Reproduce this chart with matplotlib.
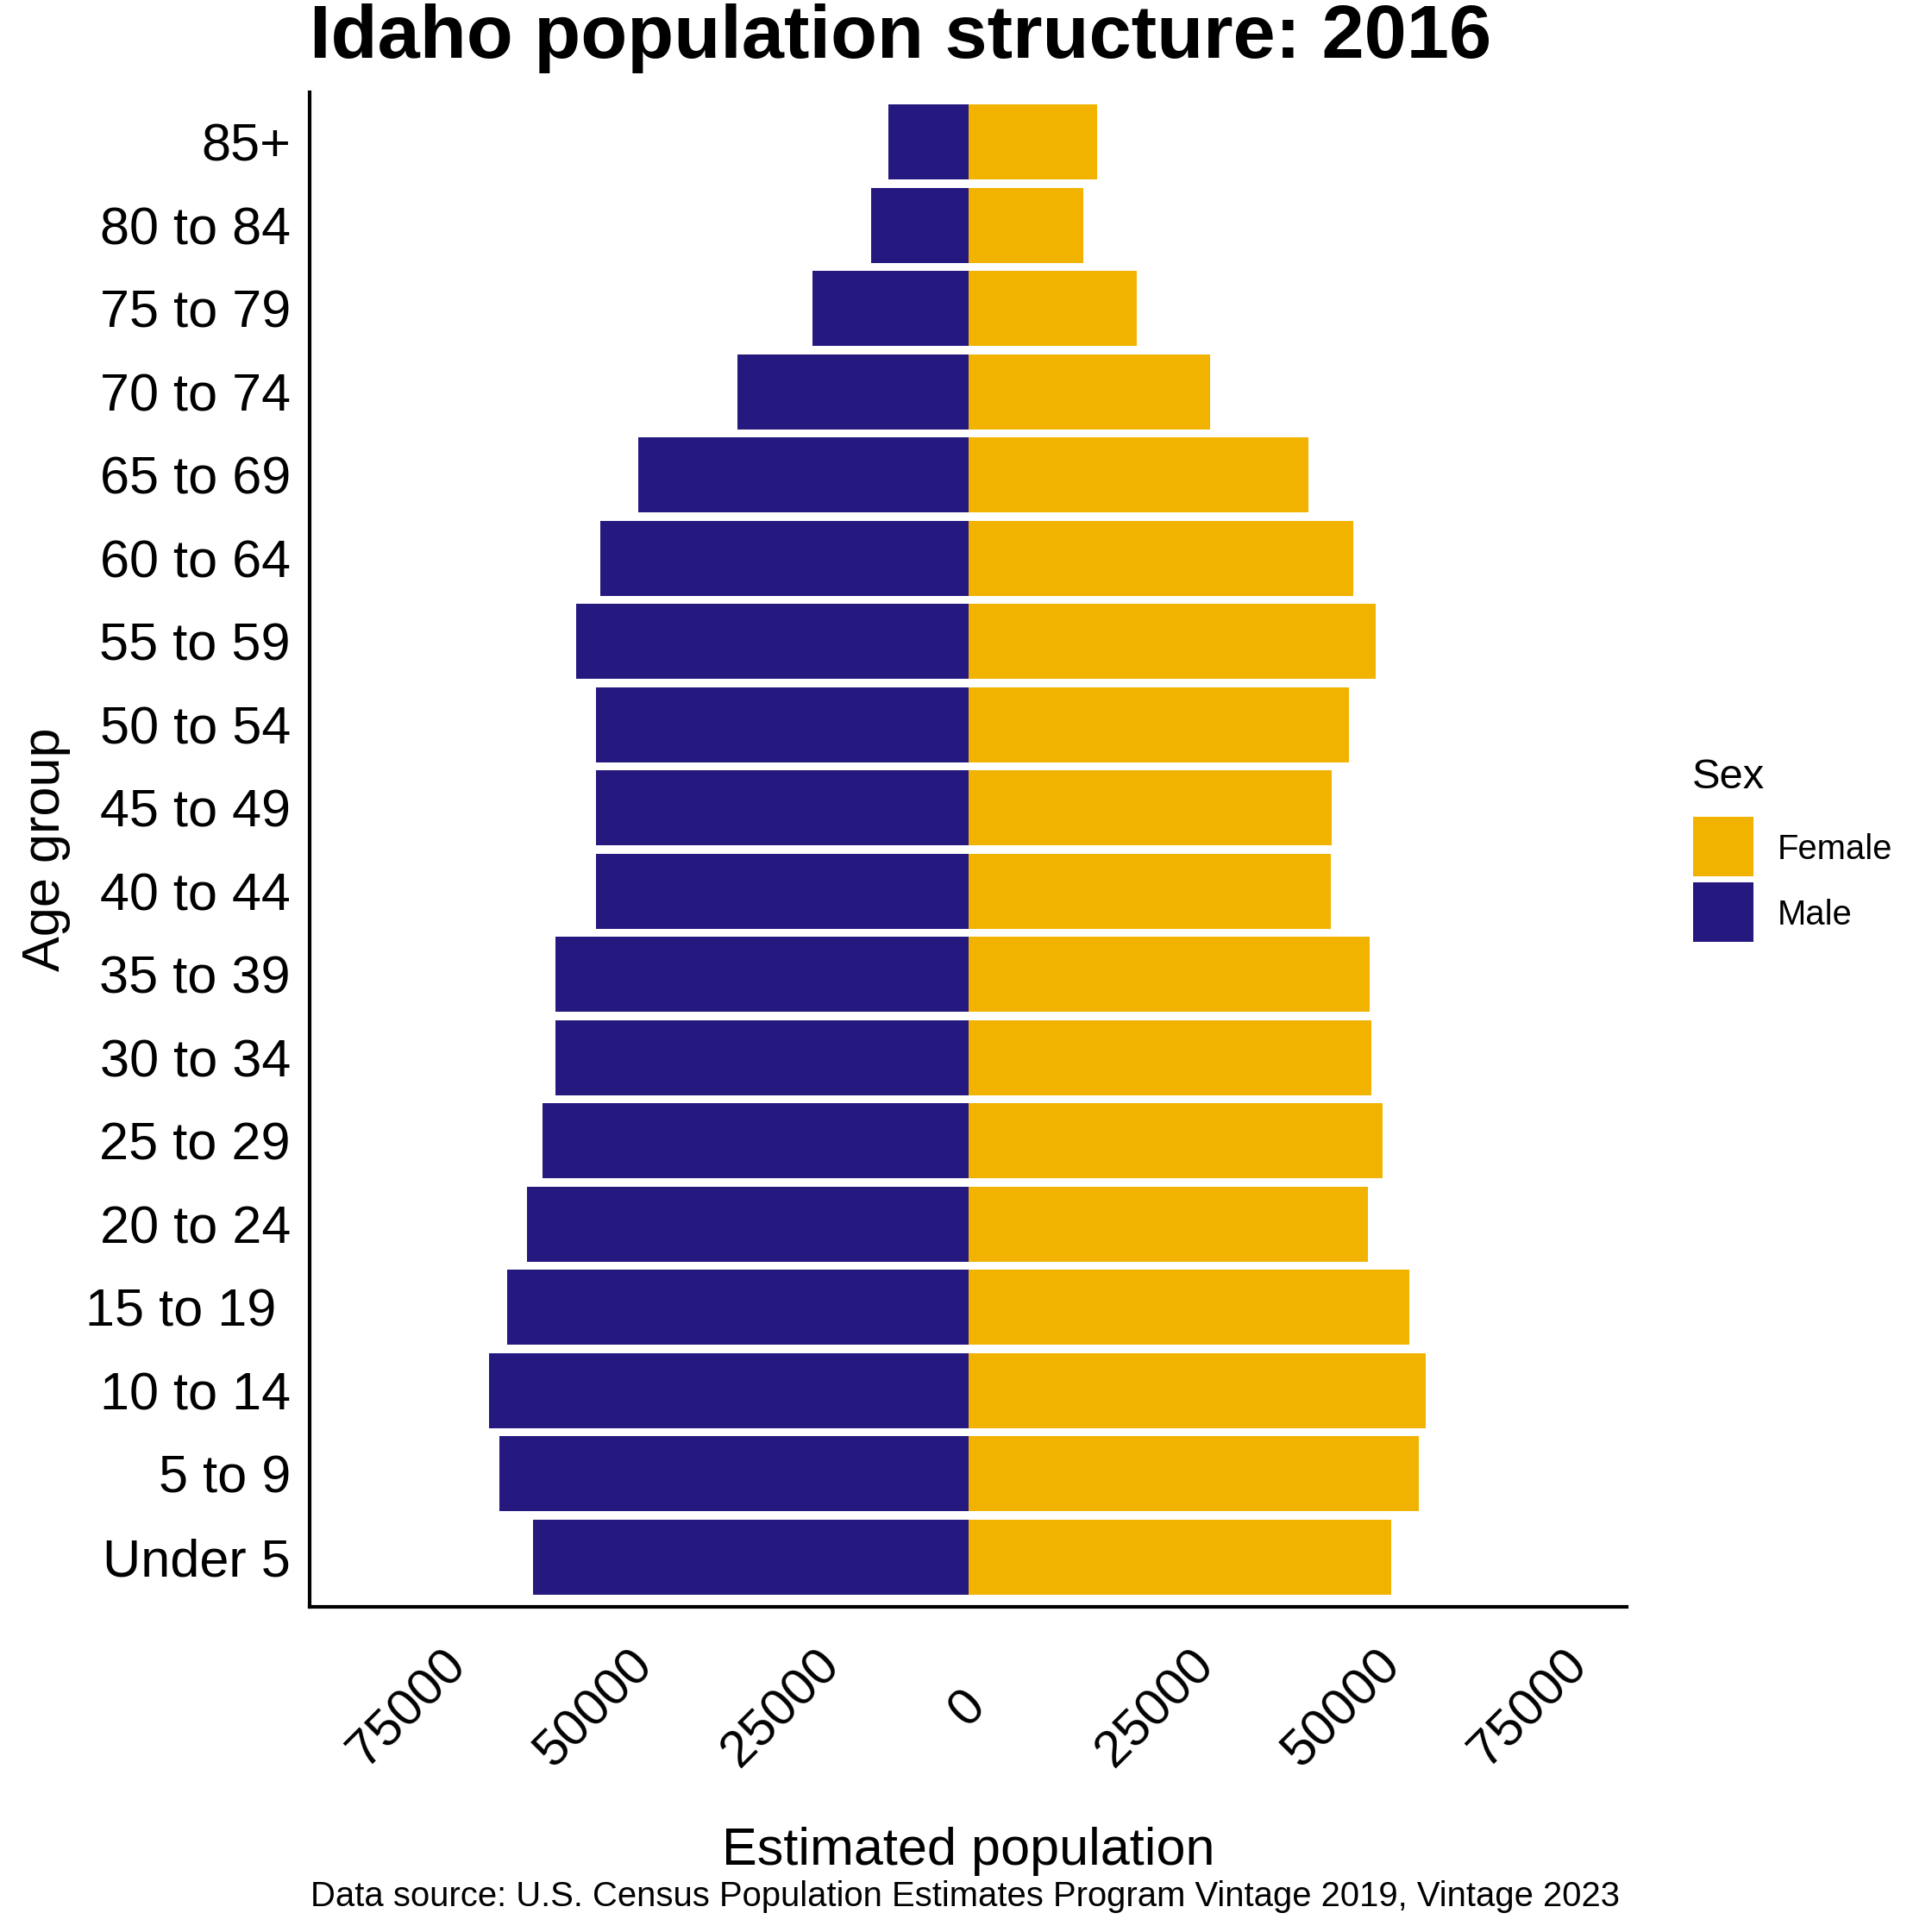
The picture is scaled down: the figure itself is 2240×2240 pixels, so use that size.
import matplotlib
matplotlib.use("Agg")
import matplotlib.pyplot as plt
from matplotlib.patches import Rectangle
import numpy as np

plt.rcParams["font.family"] = ["Liberation Sans", "DejaVu Sans"]

# Idaho 2016 estimates, bottom (youngest) to top (oldest)
age_groups = ["Under 5", "5 to 9", "10 to 14", "15 to 19 ", "20 to 24",
              "25 to 29", "30 to 34", "35 to 39", "40 to 44", "45 to 49",
              "50 to 54", "55 to 59", "60 to 64", "65 to 69", "70 to 74",
              "75 to 79", "80 to 84", "85+"]
male = [58270, 62770, 64050, 61620, 59060, 56990, 55260, 55260, 49840,
        49750, 49750, 52400, 49260, 44100, 30810, 20790, 12930, 10640]
female = [56630, 60340, 61270, 58970, 53540, 55400, 53900, 53760, 48470,
          48690, 50890, 54470, 51470, 45550, 32400, 22600, 15360, 17300]
x_ticks = [-75000, -50000, -25000, 0, 25000, 50000, 75000]
colors = {"Female": "#F1B300", "Male": "#25197F"}

W = 2240.0  # output size in pixels, used to place text in figure coords
fig = plt.figure(figsize=(11.2, 11.2), dpi=200)
ax = fig.add_axes([359 / W, 1 - 1863 / W, (1886 - 359) / W, (1863 - 107) / W])

y = np.arange(len(age_groups))
ax.barh(y, -np.array(male), height=0.9, color=colors["Male"], linewidth=0)
ax.barh(y, female, height=0.9, color=colors["Female"], linewidth=0)

ax.set_xlim(-88100, 88100)
ax.set_ylim(-0.6, len(age_groups) - 0.4)
ax.set_yticks(y)
ax.set_yticklabels(age_groups)
ax.set_xticks(x_ticks)
ax.set_xticklabels([str(abs(t)) for t in x_ticks])

ax.tick_params(axis="y", length=0, pad=8.0, labelsize=22)
ax.tick_params(axis="x", length=0, pad=42.5, labelsize=21.5)
plt.setp(ax.get_xticklabels(), rotation=45, ha="center", va="center")

for side in ("top", "right"):
    ax.spines[side].set_visible(False)
for side in ("left", "bottom"):
    ax.spines[side].set_linewidth(1.5)
    ax.spines[side].set_color("black")

cx = (359 + 1886) / 2 / W
fig.text(359 / W, 1 - 66.7 / W, "Idaho population structure: 2016",
         fontsize=31.8, fontweight="bold", ha="left", va="baseline")
fig.text(cx, 1 - 2162 / W, "Estimated population", fontsize=22,
         ha="center", va="baseline")
fig.text(69 / W, 1 - 985 / W, "Age group", fontsize=22, rotation=90,
         rotation_mode="anchor", ha="center", va="baseline")
fig.text(cx - 4 / W, 1 - 2210 / W,
         "Data source: U.S. Census Population Estimates Program Vintage 2019, Vintage 2023",
         fontsize=14.4, ha="center", va="baseline")

# legend drawn by hand to match ggplot's key layout
fig.text(1962 / W, 1 - 914 / W, "Sex", fontsize=17.6, ha="left", va="baseline")
for i, sex in enumerate(["Female", "Male"]):
    top = 947 + i * 76
    fig.add_artist(Rectangle((1963 / W, 1 - (top + 69) / W), 70 / W, 69 / W,
                             transform=fig.transFigure,
                             facecolor=colors[sex], linewidth=0))
    fig.text(2061 / W, 1 - (top + 34.5) / W, sex, fontsize=14.4,
             ha="left", va="center_baseline")

fig.savefig("out.png", dpi=200)
